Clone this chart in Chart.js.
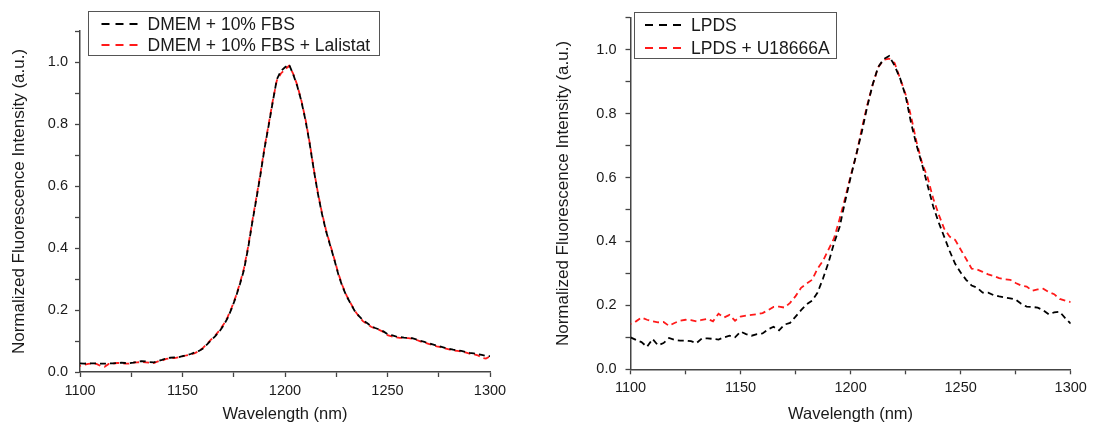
<!DOCTYPE html>
<html>
<head>
<meta charset="utf-8">
<script src="https://cdn.jsdelivr.net/npm/chart.js@4.4.1/dist/chart.umd.min.js"></script>
<style>
  body { margin: 0; background: #fff; }
  #left { position: absolute; left: 0; top: 0; }
  #right { position: absolute; left: 546px; top: 0; }
</style>
</head>
<body>
<canvas id="left" width="546" height="427"></canvas>
<canvas id="right" width="547" height="427"></canvas>
<script>
// left panel: wavelength (nm), 2 nm steps
const waveLeft = [1100,1102,1104,1106,1108,1110,1112,1114,1116,1118,1120,1122,1124,1126,1128,1130,1132,1134,1136,1138,
  1140,1142,1144,1146,1148,1150,1152,1154,1156,1158,1160,1162,1164,1166,1168,1170,1172,1174,1176,1178,
  1180,1182,1184,1186,1188,1190,1192,1194,1196,1198,1200,1202,1204,1206,1208,1210,1212,1214,1216,1218,
  1220,1222,1224,1226,1228,1230,1232,1234,1236,1238,1240,1242,1244,1246,1248,1250,1252,1254,1256,1258,
  1260,1262,1264,1266,1268,1270,1272,1274,1276,1278,1280,1282,1284,1286,1288,1290,1292,1294,1296,1298,1300];
const dmemFbs = [.028,.027,.028,.028,.028,.027,.027,.028,.028,.029,.030,.029,.028,.030,.033,.035,.034,.032,.031,.035,
  .039,.044,.046,.047,.048,.051,.054,.058,.063,.068,.076,.089,.103,.116,.131,.150,.174,.205,.241,.283,
  .330,.399,.481,.557,.635,.721,.794,.870,.944,.971,.983,.992,.960,.922,.873,.812,.738,.654,.577,.511,
  .455,.409,.364,.315,.276,.245,.221,.197,.181,.167,.158,.148,.142,.137,.131,.122,.119,.115,.113,.111,
  .110,.109,.105,.101,.097,.093,.089,.085,.082,.078,.075,.072,.070,.068,.065,.062,.060,.058,.055,.052,.051];
const dmemFbsLalistat = [.020,.023,.026,.028,.026,.020,.017,.026,.027,.029,.029,.027,.027,.030,.031,.032,.031,.030,.029,.034,
  .037,.042,.044,.045,.047,.050,.054,.056,.061,.067,.078,.091,.105,.118,.134,.153,.177,.208,.244,.286,
  .335,.404,.484,.562,.640,.724,.798,.874,.940,.963,.976,.988,.962,.925,.875,.815,.741,.656,.580,.514,
  .458,.412,.366,.318,.279,.247,.222,.198,.180,.164,.155,.146,.140,.136,.129,.119,.115,.112,.110,.110,
  .109,.108,.104,.099,.095,.091,.087,.083,.080,.076,.073,.070,.068,.066,.063,.059,.057,.054,.046,.043,.050];

// right panel: wavelength (nm), 2.5 nm steps
const waveRight = [1100,1102.5,1105,1107.5,1110,1112.5,1115,1117.5,1120,1122.5,1125,1127.5,1130,1132.5,1135,1137.5,
  1140,1142.5,1145,1147.5,1150,1152.5,1155,1157.5,1160,1162.5,1165,1167.5,1170,1172.5,1175,1177.5,
  1180,1182.5,1185,1187.5,1190,1192.5,1195,1197.5,1200,1202.5,1205,1207.5,1210,1212.5,1215,1217.5,
  1220,1222.5,1225,1227.5,1230,1232.5,1235,1237.5,1240,1242.5,1245,1247.5,1250,1252.5,1255,1257.5,
  1260,1262.5,1265,1267.5,1270,1272.5,1275,1277.5,1280,1282.5,1285,1287.5,1290,1292.5,1295,1297.5,1300];
const lpds = [.100,.092,.085,.070,.095,.075,.082,.098,.092,.090,.090,.088,.082,.097,.097,.095,
  .093,.100,.105,.100,.118,.110,.105,.110,.112,.125,.133,.122,.140,.145,.165,.185,
  .203,.215,.240,.285,.335,.395,.445,.525,.600,.670,.740,.820,.890,.945,.970,.980,
  .950,.910,.855,.770,.700,.640,.575,.510,.460,.415,.370,.330,.303,.280,.262,.255,
  .240,.240,.232,.228,.225,.222,.218,.205,.196,.195,.193,.185,.172,.178,.180,.160,.143];
const lpdsU18666a = [.142,.150,.162,.155,.150,.147,.148,.136,.145,.152,.155,.154,.150,.155,.158,.150,
  .174,.162,.170,.152,.165,.168,.170,.172,.176,.185,.195,.196,.193,.208,.229,.255,
  .268,.280,.315,.340,.375,.410,.470,.535,.605,.668,.750,.825,.890,.945,.968,.972,
  .958,.910,.860,.790,.710,.645,.600,.535,.485,.440,.415,.405,.375,.345,.315,.312,
  .305,.297,.292,.285,.282,.280,.270,.262,.259,.246,.250,.252,.242,.235,.220,.215,.210];

const axisColor = '#444';
const textColor = '#1a1a1a';
const fontFamily = '"Liberation Sans", Arial, sans-serif';

function points(xs, ys) {
  return xs.map((x, i) => ({x: x, y: ys[i]}));
}

// legend drawn as a framed box inside the plot, like the original
const boxLegend = {
  id: 'boxLegend',
  afterDraw(chart, args, opts) {
    const c = chart.ctx;
    const left = chart.chartArea.left;
    c.save();
    c.strokeStyle = '#555';
    c.lineWidth = 1;
    c.strokeRect(Math.round(left + opts.dx) + 0.5, Math.round(opts.top) + 0.5, opts.w, opts.h);
    c.font = '17.5px ' + fontFamily;
    c.textBaseline = 'middle';
    chart.data.datasets.forEach((ds, i) => {
      const y = opts.rows[i];
      c.strokeStyle = ds.borderColor;
      c.lineWidth = 2;
      c.setLineDash([8, 6]);
      c.beginPath();
      c.moveTo(left + opts.lineX, y);
      c.lineTo(left + opts.lineX + opts.lineW, y);
      c.stroke();
      c.setLineDash([]);
      c.fillStyle = textColor;
      c.fillText(ds.label, left + opts.textX, y + 1);
    });
    c.restore();
  }
};

function makeScales(yWidth, xHeight, yTitlePad, yTickPad) {
  return {
    x: {
      type: 'linear', min: 1100, max: 1300,
      afterFit: s => { s.height = xHeight; },
      border: {display: true, color: axisColor, width: 1.5},
      grid: {drawOnChartArea: false, drawTicks: true, tickLength: 5, color: axisColor, tickWidth: 1.3},
      ticks: {
        stepSize: 25, autoSkip: false, maxRotation: 0, padding: 5, color: textColor,
        font: {family: fontFamily, size: 14.5},
        callback: v => (v % 50 === 0 ? String(v) : '')
      },
      title: {display: true, text: 'Wavelength (nm)', color: textColor,
        font: {family: fontFamily, size: 16.5}, padding: {top: 0, bottom: 3}}
    },
    y: {
      min: 0, max: 1.1,
      afterFit: s => { s.width = yWidth; },
      border: {display: true, color: axisColor, width: 1.5},
      grid: {drawOnChartArea: false, drawTicks: true, tickLength: 5, color: axisColor, tickWidth: 1.3},
      ticks: {
        stepSize: 0.1, padding: yTickPad, color: textColor,
        font: {family: fontFamily, size: 14.5},
        callback: v => {
          const k = Math.round(v * 10);
          return k % 2 === 0 ? (k / 10).toFixed(1) : '';
        }
      },
      title: {display: true, text: 'Normalized Fluorescence Intensity (a.u.)', color: textColor,
        font: {family: fontFamily, size: 17}, padding: {top: yTitlePad, bottom: 0}}
    }
  };
}

function lineSet(label, xs, ys, color, offset) {
  return {
    label: label,
    data: points(xs, ys),
    borderColor: color,
    borderWidth: 1.8,
    borderDash: [6, 4],
    borderDashOffset: offset,
    pointRadius: 0,
    fill: false,
    tension: 0
  };
}

const leftChart = new Chart(document.getElementById('left'), {
  type: 'line',
  data: {
    datasets: [
      lineSet('DMEM + 10% FBS', waveLeft, dmemFbs, '#000000', 0),
      lineSet('DMEM + 10% FBS + Lalistat', waveLeft, dmemFbsLalistat, '#ff1a1a', 5)
    ]
  },
  options: {
    responsive: false,
    animation: false,
    layout: {padding: {top: 31, right: 56, bottom: 0, left: 0}},
    scales: makeScales(80, 55, 9, 7),
    plugins: {
      legend: {display: false},
      tooltip: {enabled: false},
      boxLegend: {dx: 8, top: 11, w: 291, h: 44, lineX: 21.5, lineW: 36, textX: 67.5, rows: [24, 45]}
    }
  },
  plugins: [boxLegend]
});

const rightChart = new Chart(document.getElementById('right'), {
  type: 'line',
  data: {
    datasets: [
      lineSet('LPDS', waveRight, lpds, '#000000', 0),
      lineSet('LPDS + U18666A', waveRight, lpdsU18666a, '#ff1a1a', 5)
    ]
  },
  options: {
    responsive: false,
    animation: false,
    layout: {padding: {top: 11.8, right: 22.3, bottom: 0, left: 0}},
    scales: makeScales(84.5, 57.7, 7.5, 9),
    plugins: {
      legend: {display: false},
      tooltip: {enabled: false},
      boxLegend: {dx: 3, top: 12, w: 202, h: 46, lineX: 14.5, lineW: 38, textX: 60.5, rows: [25, 48]}
    }
  },
  plugins: [boxLegend]
});
</script>
</body>
</html>
